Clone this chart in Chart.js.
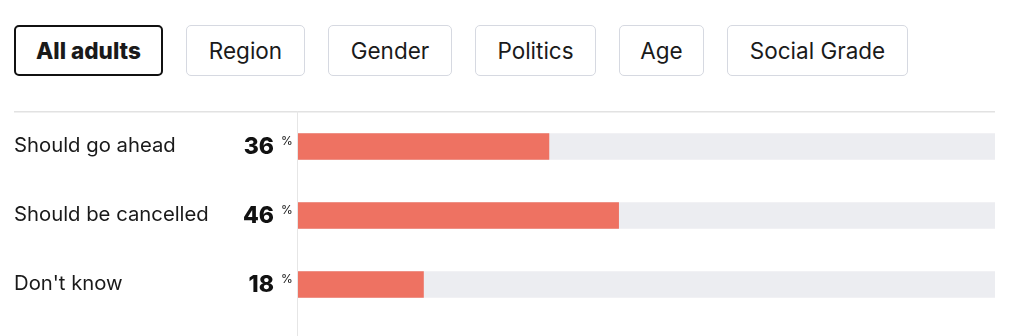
<!DOCTYPE html>
<html>
<head>
<meta charset="utf-8">
<script src="https://cdn.jsdelivr.net/npm/chart.js@4"></script>
<style>
  body { margin: 0; background: #fff; font-family: Inter, "Open Sans", sans-serif; }
  .tabs { position: absolute; top: 25px; left: 14px; display: flex; }
  .tab {
    box-sizing: border-box; height: 51px; margin-right: 23px;
    border: 1px solid #d6d9e1; border-radius: 5px;
    display: flex; align-items: center; justify-content: center;
    font-size: 22.5px; color: #1a1a1a; background: #fff;
  }
  .tab.active { border: 2px solid #111; font-weight: 800; }
  #wrap { position: absolute; top: 111px; left: 0; width: 1024px; height: 225px; }
</style>
</head>
<body>
<div class="tabs">
  <div class="tab active" style="width:149px">All adults</div>
  <div class="tab" style="width:119px">Region</div>
  <div class="tab" style="width:124px">Gender</div>
  <div class="tab" style="width:121px">Politics</div>
  <div class="tab" style="width:85px">Age</div>
  <div class="tab" style="width:181px">Social Grade</div>
</div>
<div id="wrap"><canvas id="myChart"></canvas></div>
<script>
//answers and share of adults (%)
const answers = ['Should go ahead', 'Should be cancelled', "Don't know"];
const shares = [36, 46, 18];
const track = [100, 100, 100];

//labels on the left, values and the grid lines
const sidePlugin = {
  id: 'side',
  afterDraw(chart) {
    const ctx = chart.ctx;
    const y = chart.scales.y;
    const left = chart.chartArea.left;
    ctx.save();
    ctx.strokeStyle = '#e2e2e2';
    ctx.lineWidth = 1.5;
    ctx.beginPath();
    ctx.moveTo(14, 0.75);
    ctx.lineTo(chart.chartArea.right, 0.75);
    ctx.stroke();
    ctx.strokeStyle = '#e6e6e6';
    ctx.lineWidth = 1;
    ctx.beginPath();
    ctx.moveTo(left - 0.5, 0);
    ctx.lineTo(left - 0.5, chart.height);
    ctx.stroke();

    ctx.textBaseline = 'middle';
    answers.forEach((a, i) => {
      const cy = y.getPixelForValue(i);
      ctx.fillStyle = '#1a1a1a';
      ctx.textAlign = 'left';
      ctx.font = '20.3px Inter, "Open Sans", sans-serif';
      ctx.fillText(a, 14, cy - 1);
      ctx.textAlign = 'right';
      ctx.font = '800 23px Inter, "Open Sans", sans-serif';
      ctx.fillStyle = '#111';
      ctx.fillText(shares[i], 274, cy + 1);
      ctx.textAlign = 'left';
      ctx.font = '12px Inter, "Open Sans", sans-serif';
      ctx.fillText('%', 281, cy - 5);
    });
    ctx.restore();
  }
};

const ctx = document.getElementById('myChart').getContext('2d');
const myChart = new Chart(ctx, {
  type: 'bar',
  data: {
    labels: answers,
    datasets: [{
      data: shares,
      backgroundColor: '#ee7262',
      barThickness: 26,
      grouped: false,
      order: 1
    }, {
      data: track,
      backgroundColor: '#ecedf1',
      barThickness: 26,
      grouped: false,
      order: 2
    }]
  },
  options: {
    indexAxis: 'y',
    responsive: true,
    maintainAspectRatio: false,
    animation: false,
    layout: { padding: { left: 298, right: 29, top: 1, bottom: 17 } },
    plugins: {
      legend: { display: false },
      tooltip: { enabled: false }
    },
    scales: {
      x: { display: false, min: 0, max: 100 },
      y: { display: false }
    }
  },
  plugins: [sidePlugin]
});
</script>
</body>
</html>
